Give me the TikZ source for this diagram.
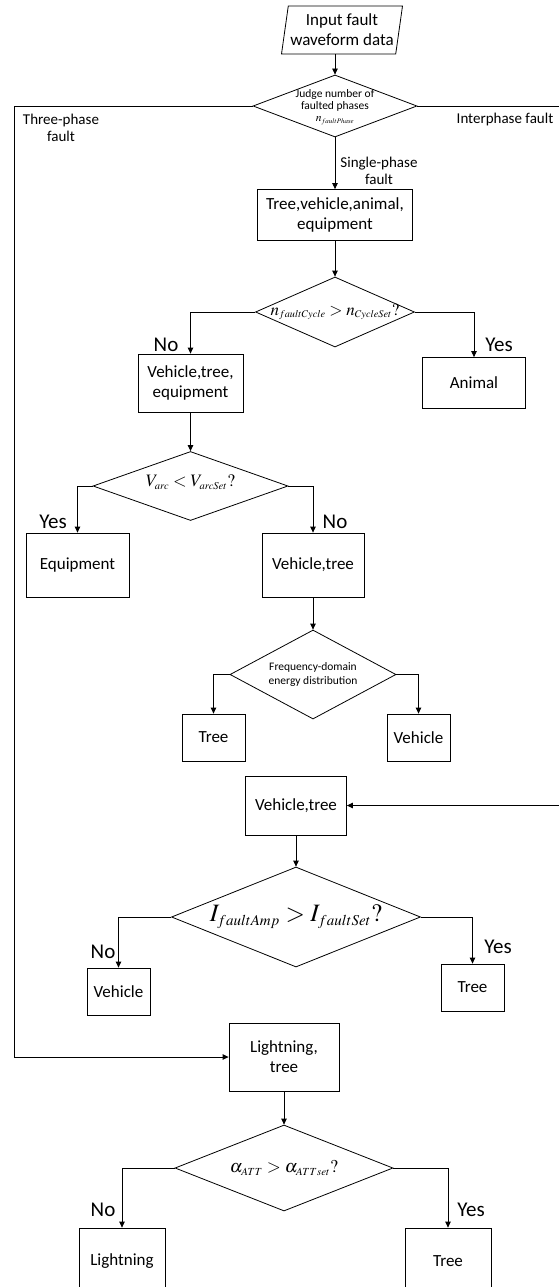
\documentclass[tikz,border=0pt]{standalone}
\usepackage{mathptmx}
\usepackage[no-math]{fontspec}
\setmainfont{Carlito}
\usetikzlibrary{shapes.geometric,arrows.meta}
\renewcommand{\defaultscriptratio}{.6}
\renewcommand{\defaultscriptscriptratio}{.45}
\begin{document}
\begin{tikzpicture}[x=1pt,y=-1pt,line width=0.8pt,
				every node/.style={inner sep=0pt,align=center},
				box/.style={draw,rectangle,font=\fontsize{17}{20}\selectfont},
				io/.style={draw,trapezium,trapezium left angle=78,trapezium right angle=102,
					trapezium stretches body,font=\fontsize{17}{20}\selectfont},
				decision/.style={draw,diamond},
				answer/.style={font=\fontsize{21}{24}\selectfont},
				branch/.style={font=\fontsize{15}{17}\selectfont},
				arr/.style={-{Triangle[length=6pt,width=5.5pt]}}]
\useasboundingbox (0,0) rectangle (558,1287);
\node[io,minimum width=121pt,minimum height=48pt] (input) at (342,30) {Input fault\\waveform data};
\node[decision,minimum width=164pt,minimum height=62pt,
	label={[yshift=-1pt,font=\fontsize{11.5}{12}\selectfont]center:Judge number of\\faulted phases\\$n_{faultPhase}$}] (phases) at (335,106) {};
\node[branch] (threephase) at (61,128) {Three-phase\\fault};
\node[branch] (interphase) at (505,120) {Interphase fault};
\node[branch] (singlephase) at (379,171) {Single-phase\\fault};
\node[box,minimum width=155pt,minimum height=51pt] (suspects) at (335,215) {Tree,vehicle,animal,\\equipment};
\node[decision,minimum width=159pt,minimum height=70pt,
	label={[font=\fontsize{17}{17}\selectfont]center:$n_{faultCycle}>n_{CycleSet}?$}] (cycle) at (335,312) {};
\node[box,minimum width=105pt,minimum height=58pt] (nonanimal) at (190.5,383) {Vehicle,tree,\\equipment};
\node[box,minimum width=103pt,minimum height=51pt] (animal) at (474,383) {Animal};
\node[answer] (cycleno) at (166,345) {No};
\node[answer] (cycleyes) at (499,345) {Yes};
\node[decision,minimum width=195pt,minimum height=69pt,
	label={[yshift=4pt,font=\fontsize{17.5}{17.5}\selectfont]center:$V_{arc}<V_{arcSet}?$}] (arc) at (190.5,486) {};
\node[box,minimum width=103pt,minimum height=64pt] (equipment) at (77.5,565) {Equipment};
\node[box,minimum width=102pt,minimum height=64pt] (vehtree) at (313,565) {Vehicle,tree};
\node[answer] (arcyes) at (53,522) {Yes};
\node[answer] (arcno) at (335,522) {No};
\node[decision,minimum width=166pt,minimum height=89pt,
	label={[font=\fontsize{11.5}{14}\selectfont]center:Frequency-domain\\energy distribution}] (spectrum) at (313,674.5) {};
\node[box,minimum width=63pt,minimum height=47pt] (tree) at (213.5,737.5) {Tree};
\node[box,minimum width=63pt,minimum height=47pt] (vehicle) at (418.5,737.5) {Vehicle};
\node[box,minimum width=101pt,minimum height=59pt] (vehtree2) at (296,805.5) {Vehicle,tree};
\node[decision,minimum width=249pt,minimum height=100pt,
	label={[font=\fontsize{25}{25}\selectfont]center:$I_{faultAmp}>I_{faultSet}?$}] (current) at (296,917) {};
\node[box,minimum width=63pt,minimum height=47pt] (vehicle2) at (118.5,991.5) {Vehicle};
\node[box,minimum width=63pt,minimum height=47pt] (tree2) at (472.5,987.5) {Tree};
\node[answer] (currentno) at (103,952) {No};
\node[answer] (currentyes) at (498,947) {Yes};
\node[box,minimum width=110pt,minimum height=68pt] (lightningtree) at (284,1057) {Lightning,\\tree};
\node[decision,minimum width=218pt,minimum height=86pt,
	label={[font=\fontsize{18}{18}\selectfont]center:$\alpha_{ATT}>\alpha_{ATTset}?$}] (attenuation) at (284,1168) {};
\node[box,minimum width=86pt,minimum height=66pt] (lightning) at (122,1261) {Lightning};
\node[box,minimum width=86pt,minimum height=66pt] (tree3) at (448,1261) {Tree};
\node[answer] (attno) at (103,1210) {No};
\node[answer] (attyes) at (471,1210) {Yes};
\coordinate (threecorner) at (14,1057);
\coordinate (intercorner) at (560,805.5);
\draw[arr] (input.south -| phases.north) -- (phases.north);
\draw[arr] (phases.south) -- (suspects.north);
\draw[arr] (phases.west) -| (threecorner) -- (lightningtree.west);
\draw[arr] (phases.east) -| (intercorner) -- (vehtree2.east);
\draw[arr] (suspects.south) -- (cycle.north);
\draw[arr] (cycle.west) -| (nonanimal.north);
\draw[arr] (cycle.east) -| (animal.north);
\draw[arr] (nonanimal.south) -- (arc.north);
\draw[arr] (arc.west) -| (equipment.north);
\draw[arr] (arc.east) -| (vehtree.north);
\draw[arr] (vehtree.south) -- (spectrum.north);
\draw[arr] (spectrum.west) -| (tree.north);
\draw[arr] (spectrum.east) -| (vehicle.north);
\draw[arr] (vehtree2.south) -- (current.north);
\draw[arr] (current.west) -| (vehicle2.north);
\draw[arr] (current.east) -| (tree2.north);
\draw[arr] (lightningtree.south) -- (attenuation.north);
\draw[arr] (attenuation.west) -| (lightning.north);
\draw[arr] (attenuation.east) -| (tree3.north);
\end{tikzpicture}
\end{document}
